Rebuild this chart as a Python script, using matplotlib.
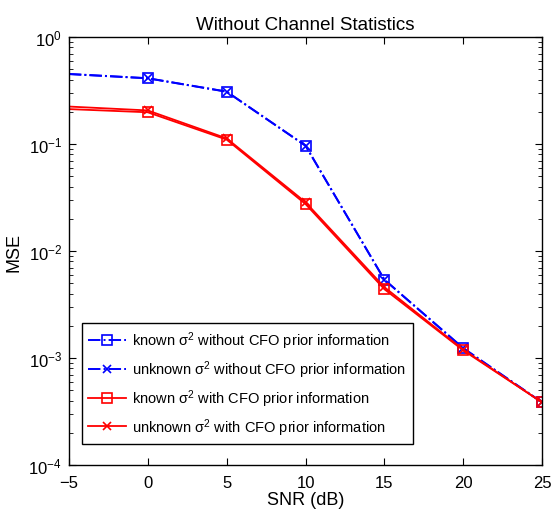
import matplotlib
matplotlib.use("Agg")
import matplotlib.pyplot as plt
from matplotlib.ticker import LogLocator, NullFormatter

plt.rcParams['font.family'] = ['Liberation Sans', 'DejaVu Sans']
plt.rcParams['mathtext.fontset'] = 'custom'
plt.rcParams['mathtext.rm'] = 'Liberation Sans'
plt.rcParams['mathtext.it'] = 'Liberation Sans:italic'

snr = [-5, 0, 5, 10, 15, 20, 25]
known_wo = [0.450, 0.411, 0.308, 0.0964, 0.0054, 0.00123, 0.000385]
unknown_wo = [0.452, 0.412, 0.309, 0.0966, 0.0054, 0.00124, 0.000385]
known_w = [0.212, 0.198, 0.110, 0.0275, 0.0044, 0.00118, 0.000385]
unknown_w = [0.224, 0.206, 0.113, 0.0286, 0.0046, 0.00120, 0.000385]

labels = ['known σ$^2$ without CFO prior information',
          'unknown σ$^2$ without CFO prior information',
          'known σ$^2$ with CFO prior information',
          'unknown σ$^2$ with CFO prior information']

fig = plt.figure(figsize=(5.51, 5.10), dpi=100)
ax = fig.add_axes([0.125, 0.086, 0.859, 0.8395])

mk = list(range(1, len(snr)))
ax.semilogy(snr, known_wo, color='blue', linestyle='-.', marker='s', markersize=7.5,
            markerfacecolor='none', markeredgewidth=1.2, linewidth=1.4, label=labels[0],
            markevery=mk)
ax.semilogy(snr, unknown_wo, color='blue', linestyle='-.', marker='x', markersize=6,
            markeredgewidth=1.2, linewidth=1.4, label=labels[1], markevery=mk)
ax.semilogy(snr, known_w, color='red', linestyle='-', marker='s', markersize=7.5,
            markerfacecolor='none', markeredgewidth=1.2, linewidth=1.3, label=labels[2],
            markevery=mk)
ax.semilogy(snr, unknown_w, color='red', linestyle='-', marker='x', markersize=6,
            markeredgewidth=1.2, linewidth=1.3, label=labels[3], markevery=mk)

ax.set_xlim(-5, 25)
ax.set_ylim(1e-4, 1)
ax.set_xticks([-5, 0, 5, 10, 15, 20, 25])
ax.set_xticklabels(['\u22125', '0', '5', '10', '15', '20', '25'])
ax.yaxis.set_major_locator(LogLocator(base=10, numticks=10))
ax.yaxis.set_minor_locator(LogLocator(base=10, subs=range(2, 10), numticks=20))
ax.yaxis.set_minor_formatter(NullFormatter())
ax.tick_params(which='both', direction='in', top=True, right=True, labelsize=12)
ax.tick_params(which='major', length=5)
ax.tick_params(which='minor', length=3)
ax.tick_params(axis='x', pad=7)
ax.tick_params(axis='y', pad=5)
for s in ax.spines.values():
    s.set_linewidth(1.0)

ax.set_xlabel('SNR (dB)', fontsize=13, labelpad=1)
ax.set_ylabel('MSE', fontsize=13)
ax.set_title('Without Channel Statistics', fontsize=13.5)

leg = ax.legend(loc='lower left', bbox_to_anchor=(0.0275, 0.049), fontsize=10.5,
                frameon=True, fancybox=False, edgecolor='black', framealpha=1,
                handlelength=2.6, borderaxespad=0, labelspacing=0.5, borderpad=0.45,
                handletextpad=0.4)
leg.get_frame().set_linewidth(1.0)

fig.savefig('out.png', dpi=100)
